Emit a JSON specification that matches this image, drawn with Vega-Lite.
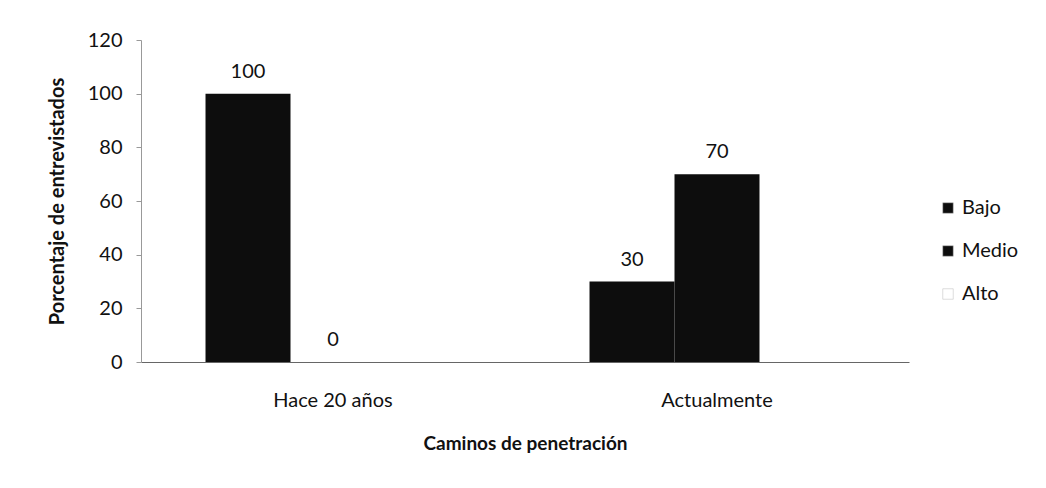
{
  "$schema": "https://vega.github.io/schema/vega-lite/v6.json",
  "autosize": {"type": "none"},
  "padding": {"left": 141, "top": 40, "right": 137, "bottom": 126},
  "width": 768,
  "height": 322,
  "background": "white",
  "config": {
    "view": {"stroke": null},
    "font": "Lato",
    "axis": {"labelFont": "Lato", "titleFont": "Lato", "labelColor": "#111", "titleColor": "#111", "domainColor": "#555", "tickColor": "#555"}
  },
  "data": {
    "values": [
      {"periodo": "Hace 20 años", "nivel": "Bajo", "porcentaje": 100},
      {"periodo": "Hace 20 años", "nivel": "Medio", "porcentaje": 0},
      {"periodo": "Hace 20 años", "nivel": "Alto", "porcentaje": 0},
      {"periodo": "Actualmente", "nivel": "Bajo", "porcentaje": 30},
      {"periodo": "Actualmente", "nivel": "Medio", "porcentaje": 70},
      {"periodo": "Actualmente", "nivel": "Alto", "porcentaje": 0}
    ]
  },
  "encoding": {
    "x": {
      "field": "periodo", "type": "nominal", "sort": ["Hace 20 años", "Actualmente"],
      "scale": {"paddingInner": 0.336, "paddingOuter": 0.168},
      "axis": {"title": "Caminos de penetración", "labelAngle": 0, "labelFontSize": 20, "labelPadding": 28, "ticks": false, "titleFontSize": 19, "titleFontWeight": "bold", "titlePadding": 24, "domainColor": "#666"}
    },
    "xOffset": {"field": "nivel", "type": "nominal", "sort": ["Bajo", "Medio", "Alto"], "scale": {"domain": ["Bajo", "Medio", "Alto"], "paddingInner": 0, "paddingOuter": 0}},
    "y": {
      "field": "porcentaje", "type": "quantitative",
      "scale": {"domain": [0, 120]},
      "axis": {"title": "Porcentaje de entrevistados", "values": [0, 20, 40, 60, 80, 100, 120], "grid": false, "labelFontSize": 20, "labelPadding": 14, "tickSize": 5, "titleFontSize": 20, "titleFontWeight": "bold", "titlePadding": 20, "domainColor": "#999", "tickColor": "#999"}
    }
  },
  "layer": [
    {
      "mark": {"type": "bar", "strokeWidth": 1},
      "encoding": {
        "color": {
          "field": "nivel", "type": "nominal",
          "scale": {"domain": ["Bajo", "Medio", "Alto"], "range": ["#0d0d0d", "#0d0d0d", "#ffffff"]},
          "legend": {"title": null, "orient": "none", "legendX": 797, "legendY": 158, "labelFontSize": 20, "labelColor": "#111", "symbolType": "square", "symbolSize": 110, "symbolStrokeColor": "#bbb", "symbolStrokeWidth": 0.5, "rowPadding": 23, "labelOffset": 4}
        }
      }
    },
    {
      "transform": [{"filter": "datum.nivel != 'Alto'"}],
      "mark": {"type": "text", "baseline": "bottom", "dy": -12, "fontSize": 20, "color": "#111"},
      "encoding": {"text": {"field": "porcentaje", "type": "quantitative"}}
    }
  ]
}
